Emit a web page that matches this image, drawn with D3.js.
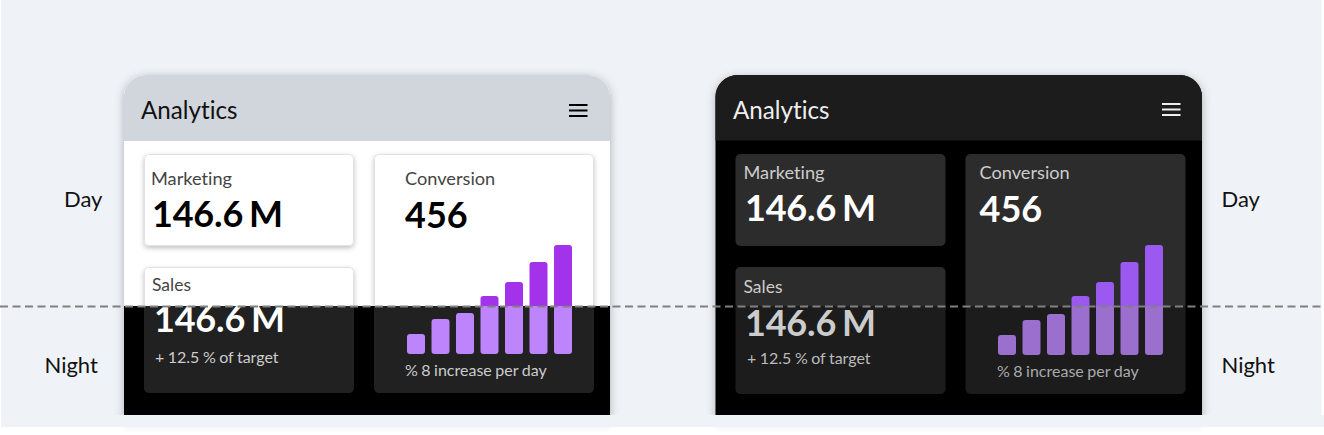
<!DOCTYPE html>
<html><head><meta charset="utf-8">
<script src="https://d3js.org/d3.v7.min.js"></script>
<style>html,body{margin:0;padding:0;background:#fff;overflow:hidden}svg{display:block;font-family:Lato,sans-serif;font-variant-ligatures:none}</style>
</head><body><svg id="c" width="1324" height="435"></svg>
<script>
const days=["1","2","3","4","5","6","7"];
const barsDay=[20,35,41,58,72,92,109];
const barsNight=[20,35,41,59,73,93,110];
const title="Analytics";
const metricA="Marketing";
const metricB="Sales";
const metricC="Conversion";
const valueAB="146.6 M";
const valueC="456";
const noteB="+ 12.5 % of target";
const noteC="% 8 increase per day";
const modeDay="Day";
const modeNight="Night";
const splitY=306.5;

const svg=d3.select("#c");
const defs=svg.append("defs");
defs.append("clipPath").attr("id","top").append("rect").attr("x",0).attr("y",0).attr("width",1324).attr("height",306);
defs.append("clipPath").attr("id","bot").append("rect").attr("x",0).attr("y",306).attr("width",1324).attr("height",129);
defs.append("clipPath").attr("id","upper").append("rect").attr("x",0).attr("y",0).attr("width",1324).attr("height",415);
defs.append("clipPath").attr("id","lower").append("rect").attr("x",0).attr("y",427).attr("width",1324).attr("height",8);
const sh=defs.append("filter").attr("id","sh").attr("x","-10%").attr("y","-10%").attr("width","120%").attr("height","120%");
sh.append("feDropShadow").attr("dx",0).attr("dy",2).attr("stdDeviation",5).attr("flood-color","#000").attr("flood-opacity",.28);
const cs=defs.append("filter").attr("id","cs").attr("x","-10%").attr("y","-10%").attr("width","120%").attr("height","130%");
cs.append("feDropShadow").attr("dx",0).attr("dy",2).attr("stdDeviation",2.5).attr("flood-color","#000").attr("flood-opacity",.25);
const bl=defs.append("filter").attr("id","bl").attr("x","-10%").attr("y","-50%").attr("width","120%").attr("height","200%");
bl.append("feGaussianBlur").attr("stdDeviation",2);

// page
svg.append("rect").attr("x",1).attr("y",0).attr("width",1320.5).attr("height",427).attr("fill","#eff3f8");
svg.append("rect").attr("x",1).attr("y",415).attr("width",1323).attr("height",12).attr("fill","#eff3f8");
const faint=svg.append("g").attr("clip-path","url(#lower)");
faint.selectAll(null).data([124,715.5]).enter().append("rect").attr("x",d=>d).attr("y",418).attr("width",486).attr("height",11)
  .attr("fill","#000").attr("opacity",.04).attr("filter","url(#bl)");

function T(g,x,y,s,size,fill,weight){
  return g.append("text").attr("x",x).attr("y",y).attr("font-size",size).attr("fill",fill).attr("font-weight",weight||400).text(s);
}
function V(g,x,y,s,fill){
  return T(g,x,y,s,36,fill,700).style("letter-spacing","-0.2px").style("word-spacing","-2.5px");
}
function N(g,x,y,s,fill){
  return T(g,x,y,s,16,fill).style("word-spacing","-0.6px");
}
function phonePath(x,y,w,h,r){
  return `M${x},${y+h}V${y+r}A${r},${r} 0 0 1 ${x+r},${y}H${x+w-r}A${r},${r} 0 0 1 ${x+w},${y+r}V${y+h}Z`;
}
function bars(g,x0,x1,base,vals,fill){
  const x=d3.scaleBand().domain(days).range([x0,x1]).paddingInner(0.265);
  const y=d3.scaleLinear().domain([0,110]).range([base,base-110]);
  g.selectAll(null).data(vals).enter().append("rect")
    .attr("x",(d,i)=>x(days[i])).attr("y",d=>y(d)).attr("width",x.bandwidth()).attr("height",d=>base-y(d))
    .attr("rx",3).attr("fill",fill);
}
function burger(g,x,ys,color){
  ys.forEach(y=>g.append("rect").attr("x",x).attr("y",y).attr("width",18.5).attr("height",2).attr("fill",color));
}

/* LEFT PHONE */
const L=svg.append("g").attr("clip-path","url(#upper)");
L.append("path").attr("d",phonePath(124,75,486,345,22)).attr("fill","#fff").attr("filter","url(#sh)");
L.append("path").attr("d",phonePath(124,75,486,66,22)).attr("fill","#d1d5dc");
T(L,141,118.5,title,24.2,"#111");
burger(L,569,[104,109.5,115],"#000");
const ld=L.append("g").attr("clip-path","url(#top)");
function dayCard(x,y,w,h){
  ld.append("rect").attr("x",x).attr("y",y).attr("width",w).attr("height",h).attr("rx",4)
    .attr("fill","#fff").attr("stroke","#e0e2e6").attr("filter","url(#cs)");
}
dayCard(144.5,154.5,209,91);
dayCard(144.5,267.5,209,120);
dayCard(374.5,154.5,219,240);
T(ld,151,185,metricA,18.2,"#444");
V(ld,152,227,valueAB,"#000");
T(ld,152,291,metricB,17.5,"#444");
T(ld,405,185,metricC,18.2,"#444");
T(ld,405,228,valueC,36,"#000",700);
bars(ld,407,572,354,barsDay,"#a233ea");
const ln=L.append("g").attr("clip-path","url(#bot)");
ln.append("rect").attr("x",124).attr("y",306).attr("width",486).attr("height",109).attr("fill","#000");
ln.append("rect").attr("x",144).attr("y",267).attr("width",210).attr("height",126).attr("rx",5).attr("fill","#212121");
ln.append("rect").attr("x",374).attr("y",154).attr("width",220).attr("height",239).attr("rx",5).attr("fill","#212121");
V(ln,154,332,valueAB,"#fff");
N(ln,155,363,noteB,"#ccc");
bars(ln,407,572,354,barsDay,"#bd84fb");
N(ln,405,376,noteC,"#ccc");

/* RIGHT PHONE */
const R=svg.append("g").attr("clip-path","url(#upper)");
R.append("path").attr("d",phonePath(715.5,75,486.5,345,22)).attr("fill","#000").attr("filter","url(#sh)");
R.append("path").attr("d",phonePath(715.5,75,486.5,65.5,22)).attr("fill","#1c1c1c");
T(R,733,118.5,title,24.2,"#eee");
burger(R,1162,[103,108.5,114],"#eee");
const rd=R.append("g").attr("clip-path","url(#top)");
const rn=R.append("g").attr("clip-path","url(#bot)");
[[rd,"#2c2c2c"],[rn,"#1c1c1c"]].forEach(([g,f])=>{
  g.append("rect").attr("x",735.5).attr("y",154).attr("width",210).attr("height",92).attr("rx",5).attr("fill",f);
  g.append("rect").attr("x",735.5).attr("y",267).attr("width",210).attr("height",127).attr("rx",5).attr("fill",f);
  g.append("rect").attr("x",965.5).attr("y",154).attr("width",220).attr("height",240).attr("rx",5).attr("fill",f);
});
T(rd,743.5,179,metricA,18.2,"#ccc");
V(rd,745,221,valueAB,"#fff");
T(rd,743.5,293,metricB,17.5,"#ccc");
T(rd,979.5,179,metricC,18.2,"#ccc");
T(rd,979.5,222,valueC,36,"#fff",700);
bars(rd,998,1163,355,barsNight,"#9b59f0");
V(rn,745,336,valueAB,"#ccc");
N(rn,747,364,noteB,"#bbb");
bars(rn,998,1163,355,barsNight,"#9a6fce");
N(rn,997,377,noteC,"#aaa");

/* mode labels */
T(svg,64,206.5,modeDay,22,"#111");
T(svg,44.5,372.5,modeNight,22,"#111");
T(svg,1221.5,206.5,modeDay,22,"#111");
T(svg,1221.5,372.5,modeNight,22,"#111");

svg.append("line").attr("x1",0).attr("x2",1324).attr("y1",splitY).attr("y2",splitY)
  .attr("stroke","#808080").attr("stroke-width",2).attr("stroke-dasharray","8 4.5");
</script></body></html>
